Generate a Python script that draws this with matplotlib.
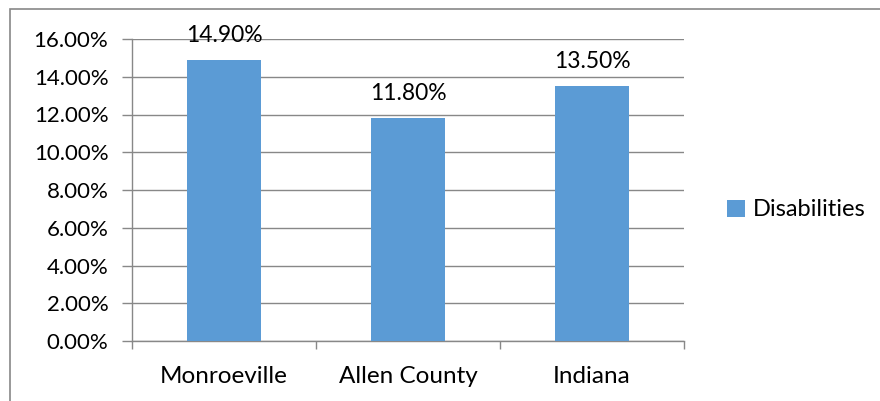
import matplotlib
matplotlib.use("Agg")
import matplotlib.pyplot as plt
from matplotlib.patches import Rectangle
from matplotlib.ticker import FuncFormatter

categories = ["Monroeville", "Allen County", "Indiana"]
values = [14.90, 11.80, 13.50]
series_name = "Disabilities"
yticks = [0, 2, 4, 6, 8, 10, 12, 14, 16]

plt.rcParams['font.family'] = ['Lato', 'DejaVu Sans']
W, H = 880, 401
fig = plt.figure(figsize=(W/100, H/100), dpi=100)
fig.patches.append(Rectangle((10/W, -0.1), 1.2, (H-9)/H + 0.1, transform=fig.transFigure,
                             fill=False, edgecolor='#888888', linewidth=1.2))

ax = fig.add_axes([132/W, 1-341/H, (684-132)/W, (341-39)/H])
color = '#5B9BD5'
x = list(range(len(categories)))
bars = ax.bar(x, values, width=0.4, color=color, label=series_name, zorder=3)
ax.set_xlim(-0.5, len(categories)-0.5)
ax.set_ylim(0, 16)
ax.set_yticks(yticks)
ax.yaxis.set_major_formatter(FuncFormatter(lambda v, p: f"{v:.2f}%"))
ax.grid(axis='y', color='#888888', linewidth=1, zorder=0)
ax.set_xticks(x)
ax.set_xticklabels(categories)
ax.set_xticks([-0.5, 0.5, 1.5, 2.5], minor=True)
ax.tick_params(axis='x', which='major', length=0, pad=18, labelsize=17.5)
ax.tick_params(axis='x', which='minor', length=6, color='#888888', width=1)
ax.tick_params(axis='y', length=7, color='#888888', width=1, labelsize=16, pad=10)
for s in ['top', 'right']:
    ax.spines[s].set_visible(False)
for s in ['left', 'bottom']:
    ax.spines[s].set_color('#888888')
    ax.spines[s].set_linewidth(1)

for b, v in zip(bars, values):
    ax.annotate(f"{v:.2f}%", (b.get_x()+b.get_width()/2, v), xytext=(0, 10),
                textcoords='offset points', ha='center', va='bottom', fontsize=16.5)

leg = fig.legend(handles=[bars], labels=[series_name], loc='center left',
                 bbox_to_anchor=(706/W, 1-210/H), frameon=False, fontsize=17,
                 handlelength=0.75, handleheight=0.75, handletextpad=0.35)
fig.savefig("out.png", dpi=100)
